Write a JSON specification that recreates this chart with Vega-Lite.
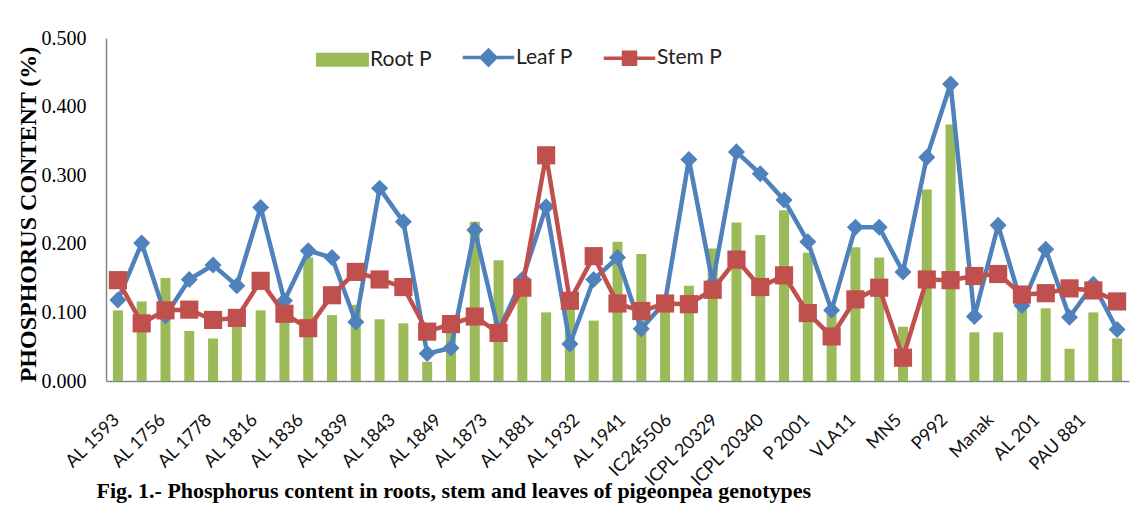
{
  "$schema": "https://vega.github.io/schema/vega-lite/v6.json",
  "width": 1023,
  "height": 343,
  "autosize": "none",
  "padding": {"left": 106, "top": 38, "right": 15, "bottom": 134},
  "background": "white",
  "config": {"view": {"stroke": null}, "axis": {"grid": false}},
  "data": {
    "values": [
      {"genotype": "AL 1593", "root": 0.103, "leaf": 0.118, "stem": 0.147},
      {"genotype": "G02", "root": 0.116, "leaf": 0.201, "stem": 0.084},
      {"genotype": "AL 1756", "root": 0.150, "leaf": 0.095, "stem": 0.103},
      {"genotype": "G04", "root": 0.073, "leaf": 0.148, "stem": 0.104},
      {"genotype": "AL 1778", "root": 0.062, "leaf": 0.169, "stem": 0.089},
      {"genotype": "G06", "root": 0.088, "leaf": 0.139, "stem": 0.092},
      {"genotype": "AL 1816", "root": 0.103, "leaf": 0.253, "stem": 0.146},
      {"genotype": "G08", "root": 0.095, "leaf": 0.117, "stem": 0.098},
      {"genotype": "AL 1836", "root": 0.180, "leaf": 0.190, "stem": 0.077},
      {"genotype": "G10", "root": 0.096, "leaf": 0.180, "stem": 0.125},
      {"genotype": "AL 1839", "root": 0.111, "leaf": 0.086, "stem": 0.159},
      {"genotype": "G12", "root": 0.090, "leaf": 0.281, "stem": 0.148},
      {"genotype": "AL 1843", "root": 0.084, "leaf": 0.232, "stem": 0.137},
      {"genotype": "G14", "root": 0.028, "leaf": 0.040, "stem": 0.072},
      {"genotype": "AL 1849", "root": 0.075, "leaf": 0.048, "stem": 0.083},
      {"genotype": "G16", "root": 0.232, "leaf": 0.220, "stem": 0.094},
      {"genotype": "AL 1873", "root": 0.176, "leaf": 0.073, "stem": 0.070},
      {"genotype": "G18", "root": 0.153, "leaf": 0.148, "stem": 0.136},
      {"genotype": "AL 1881", "root": 0.100, "leaf": 0.254, "stem": 0.329},
      {"genotype": "G20", "root": 0.105, "leaf": 0.054, "stem": 0.117},
      {"genotype": "AL 1932", "root": 0.088, "leaf": 0.148, "stem": 0.182},
      {"genotype": "G22", "root": 0.203, "leaf": 0.180, "stem": 0.113},
      {"genotype": "AL 1941", "root": 0.185, "leaf": 0.076, "stem": 0.102},
      {"genotype": "G24", "root": 0.105, "leaf": 0.115, "stem": 0.113},
      {"genotype": "IC245506", "root": 0.139, "leaf": 0.323, "stem": 0.112},
      {"genotype": "G26", "root": 0.193, "leaf": 0.143, "stem": 0.133},
      {"genotype": "ICPL 20329", "root": 0.231, "leaf": 0.334, "stem": 0.177},
      {"genotype": "G28", "root": 0.213, "leaf": 0.302, "stem": 0.137},
      {"genotype": "ICPL 20340", "root": 0.249, "leaf": 0.264, "stem": 0.154},
      {"genotype": "G30", "root": 0.187, "leaf": 0.203, "stem": 0.099},
      {"genotype": "P 2001", "root": 0.098, "leaf": 0.103, "stem": 0.065},
      {"genotype": "G32", "root": 0.195, "leaf": 0.224, "stem": 0.119},
      {"genotype": "VLA11", "root": 0.180, "leaf": 0.224, "stem": 0.136},
      {"genotype": "G34", "root": 0.079, "leaf": 0.159, "stem": 0.034},
      {"genotype": "MN5", "root": 0.279, "leaf": 0.326, "stem": 0.148},
      {"genotype": "G36", "root": 0.374, "leaf": 0.433, "stem": 0.147},
      {"genotype": "P992", "root": 0.071, "leaf": 0.094, "stem": 0.153},
      {"genotype": "G38", "root": 0.071, "leaf": 0.227, "stem": 0.156},
      {"genotype": "Manak", "root": 0.105, "leaf": 0.110, "stem": 0.126},
      {"genotype": "G40", "root": 0.106, "leaf": 0.192, "stem": 0.128},
      {"genotype": "AL 201", "root": 0.047, "leaf": 0.093, "stem": 0.135},
      {"genotype": "G42", "root": 0.100, "leaf": 0.141, "stem": 0.132},
      {"genotype": "PAU 881", "root": 0.062, "leaf": 0.075, "stem": 0.116}
    ]
  },
  "encoding": {
    "x": {
      "field": "genotype",
      "type": "nominal",
      "sort": null,
      "scale": {"paddingInner": 0.58, "paddingOuter": 0.29},
      "axis": {
        "values": ["AL 1593", "AL 1756", "AL 1778", "AL 1816", "AL 1836", "AL 1839", "AL 1843", "AL 1849", "AL 1873", "AL 1881", "AL 1932", "AL 1941", "IC245506", "ICPL 20329", "ICPL 20340", "P 2001", "VLA11", "MN5", "P992", "Manak", "AL 201", "PAU 881"],
        "labelAngle": -45,
        "labelAlign": "right",
        "labelBaseline": "middle",
        "labelPadding": 36,
        "labelOffset": {"expr": "-1 - 33 * datum.index"},
        "labelOverlap": false,
        "labelBound": false,
        "labelFont": "Lato",
        "labelFontSize": 18,
        "labelColor": "#111111",
        "ticks": false,
        "domainColor": "#868686",
        "domainWidth": 1.5,
        "title": "Fig. 1.- Phosphorus content in roots, stem and leaves of pigeonpea genotypes",
        "titleFont": "Liberation Serif",
        "titleFontSize": 22,
        "titleFontWeight": "bold",
        "titleColor": "#000000",
        "titleX": -10,
        "titleY": 116,
        "titleAlign": "left",
        "titleBaseline": "alphabetic"
      }
    }
  },
  "layer": [
    {
      "mark": {"type": "bar"},
      "encoding": {
        "y": {
          "field": "root",
          "type": "quantitative",
          "title": "PHOSPHORUS CONTENT (%)",
          "scale": {"domain": [0, 0.5]},
          "axis": {
            "values": [0, 0.05, 0.1, 0.15, 0.2, 0.25, 0.3, 0.35, 0.4, 0.45, 0.5],
            "format": ".3f",
            "ticks": false,
            "labelPadding": 20,
            "labelFont": "Liberation Serif",
            "labelFontSize": 20,
            "labelColor": "#000000",
            "domainColor": "#868686",
            "domainWidth": 1.5,
            "titleFont": "Liberation Serif",
            "titleFontSize": 24,
            "titleFontWeight": "bold",
            "titleColor": "#000000",
            "titleAngle": -90,
            "titleX": -78,
            "titleY": 176,
            "titleAlign": "center",
            "titleBaseline": "middle"
          }
        },
        "color": {
          "datum": "Root P",
          "scale": {"domain": ["Root P", "Leaf P", "Stem P"], "range": ["#9BBB59", "#4F81BD", "#C0504D"]},
          "legend": {
            "title": null,
            "orient": "none",
            "legendX": 226,
            "legendY": 9,
            "direction": "horizontal",
            "labelFont": "Lato",
            "labelFontSize": 21,
            "labelColor": "#222222",
            "symbolSize": 2116,
            "labelOffset": 17,
            "columnPadding": 23,
            "symbolType": "square",
            "encode": {
              "symbols": {
                "update": {
                  "shape": {"signal": "datum.value === 'Root P' ? 'M-1.15,-0.3H1.15V0.3H-1.15Z' : datum.value === 'Leaf P' ? 'M-1.12,0H1.12M0,-0.32L0.32,0L0,0.32L-0.32,0Z' : 'M-1.12,0H1.12M-0.26,-0.26H0.26V0.26H-0.26Z'"},
                  "fill": {"scale": "color", "field": "value"},
                  "stroke": {"scale": "color", "field": "value"},
                  "strokeWidth": {"signal": "datum.value === 'Root P' ? 0 : 3.5"},
                  "opacity": {"value": 1},
                  "fillOpacity": {"value": 1},
                  "strokeOpacity": {"value": 1}
                }
              }
            }
          }
        }
      }
    },
    {
      "mark": {"type": "line", "strokeWidth": 4.5, "point": {"shape": "diamond", "size": 290, "filled": true, "opacity": 1}},
      "encoding": {
        "y": {"field": "leaf", "type": "quantitative", "title": "PHOSPHORUS CONTENT (%)"},
        "color": {"datum": "Leaf P"}
      }
    },
    {
      "mark": {"type": "line", "strokeWidth": 4.5, "point": {"shape": "square", "size": 330, "filled": true, "opacity": 1}},
      "encoding": {
        "y": {"field": "stem", "type": "quantitative", "title": "PHOSPHORUS CONTENT (%)"},
        "color": {"datum": "Stem P"}
      }
    }
  ]
}
